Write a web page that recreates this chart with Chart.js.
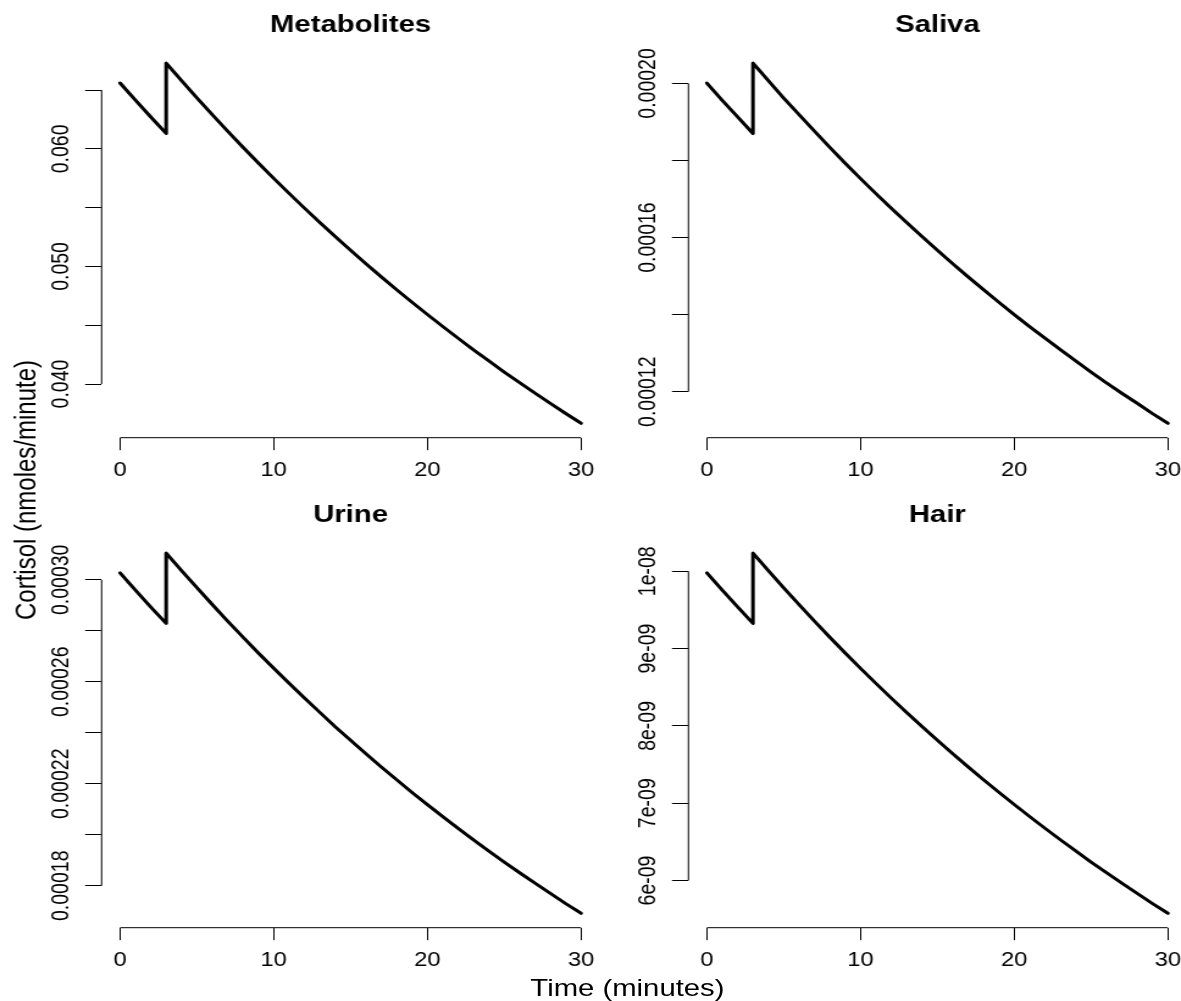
<!DOCTYPE html>
<html>
<head>
<meta charset="utf-8">
<title>Cortisol</title>
<script src="https://cdn.jsdelivr.net/npm/chart.js@4.4.1/dist/chart.umd.min.js"></script>
<style>
  html, body { margin: 0; padding: 0; background: #fff; width: 1181px; height: 1001px; overflow: hidden; }
  /* the source picture is stretched sideways, so the whole page is too */
  #page { position: absolute; left: 0; top: 0; width: 968px; height: 1001px; transform: scaleX(1.22); transform-origin: 0 0; }
  .panel { position: absolute; width: 500px; height: 490px; }
  .panel canvas { display: block; }
  .outer { position: absolute; font-family: "Liberation Sans", Arial, sans-serif; font-size: 24px; line-height: 28px; color: #000; white-space: nowrap; text-align: center; }
</style>
</head>
<body>
<div id="page">
  <div class="panel" style="left:0px;top:0px"><canvas id="c1" width="500" height="490"></canvas></div>
  <div class="panel" style="left:481.15px;top:0px"><canvas id="c2" width="500" height="490"></canvas></div>
  <div class="panel" style="left:0px;top:490px"><canvas id="c3" width="500" height="490"></canvas></div>
  <div class="panel" style="left:481.15px;top:490px"><canvas id="c4" width="500" height="490"></canvas></div>
  <div class="outer" style="left:364.3px;top:974.4px;width:300px;">Time (minutes)</div>
  <div class="outer" style="left:-139.5px;top:475.5px;width:320px;height:28px;transform:rotate(-90deg);">Cortisol (nmoles/minute)</div>
</div>

<script>
// time in minutes; t=3 appears twice for the jump
const timeMin = [0, 1, 2, 3, 3, 4, 5, 6, 7, 8, 9, 10, 11, 12, 13, 14, 15, 16, 17, 18, 19, 20, 21, 22, 23, 24, 25, 26, 27, 28, 29, 30];

const metabolites = [0.06560, 0.06414, 0.06271, 0.06131, 0.06730, 0.06580, 0.06434, 0.06291, 0.06151, 0.06014, 0.05880, 0.05749, 0.05621, 0.05496, 0.05374, 0.05254, 0.05138, 0.05023, 0.04911, 0.04802, 0.04695, 0.04591, 0.04489, 0.04389, 0.04291, 0.04196, 0.04102, 0.04011, 0.03922, 0.03835, 0.03749, 0.03666];
const saliva = [2.001e-4, 1.956e-4, 1.913e-4, 1.870e-4, 2.053e-4, 2.007e-4, 1.962e-4, 1.919e-4, 1.876e-4, 1.834e-4, 1.793e-4, 1.753e-4, 1.714e-4, 1.676e-4, 1.639e-4, 1.603e-4, 1.567e-4, 1.532e-4, 1.498e-4, 1.465e-4, 1.432e-4, 1.400e-4, 1.369e-4, 1.339e-4, 1.309e-4, 1.280e-4, 1.251e-4, 1.223e-4, 1.196e-4, 1.170e-4, 1.143e-4, 1.118e-4];
const urine = [3.027e-4, 2.959e-4, 2.893e-4, 2.829e-4, 3.105e-4, 3.036e-4, 2.969e-4, 2.903e-4, 2.838e-4, 2.775e-4, 2.713e-4, 2.653e-4, 2.594e-4, 2.536e-4, 2.480e-4, 2.424e-4, 2.371e-4, 2.318e-4, 2.266e-4, 2.216e-4, 2.166e-4, 2.118e-4, 2.071e-4, 2.025e-4, 1.980e-4, 1.936e-4, 1.893e-4, 1.851e-4, 1.810e-4, 1.770e-4, 1.730e-4, 1.692e-4];
const hair = [9.978e-9, 9.756e-9, 9.538e-9, 9.325e-9, 1.0236e-8, 1.0008e-8, 9.786e-9, 9.569e-9, 9.356e-9, 9.147e-9, 8.943e-9, 8.744e-9, 8.550e-9, 8.359e-9, 8.174e-9, 7.991e-9, 7.815e-9, 7.640e-9, 7.470e-9, 7.304e-9, 7.141e-9, 6.983e-9, 6.828e-9, 6.676e-9, 6.527e-9, 6.382e-9, 6.239e-9, 6.101e-9, 5.965e-9, 5.833e-9, 5.702e-9, 5.576e-9];

const xTicks = [0, 10, 20, 30];

const metabTicks = [0.040, 0.045, 0.050, 0.055, 0.060, 0.065];
const metabLabels = ['0.040', '', '0.050', '', '0.060', ''];
const salivaTicks = [0.00012, 0.00014, 0.00016, 0.00018, 0.00020];
const salivaLabels = ['0.00012', '', '0.00016', '', '0.00020'];
const urineTicks = [0.00018, 0.00020, 0.00022, 0.00024, 0.00026, 0.00028, 0.00030];
const urineLabels = ['0.00018', '', '0.00022', '', '0.00026', '', '0.00030'];
const hairTicks = [6e-9, 7e-9, 8e-9, 9e-9, 1e-8];
const hairLabels = ['6e-09', '7e-09', '8e-09', '9e-09', '1e-08'];

const FAMILY = '"Liberation Sans", Arial, sans-serif';
const TICK_SIZE = 19.5;

Chart.defaults.font.family = FAMILY;
Chart.defaults.color = '#000';

// widest label, needed to centre the turned y labels
function widest(labels) {
  const c = document.createElement('canvas').getContext('2d');
  c.font = TICK_SIZE + 'px ' + FAMILY;
  return Math.max(...labels.map(s => c.measureText(s).width));
}

// base-R style axis line: only from first tick to last tick
const rAxisLines = {
  id: 'rAxisLines',
  afterDraw(chart) {
    const { ctx, chartArea, scales: { x, y } } = chart;
    const xt = x.ticks, yt = y.ticks;
    ctx.save();
    ctx.strokeStyle = '#000';
    ctx.lineWidth = 1;
    ctx.beginPath();
    ctx.moveTo(x.getPixelForValue(xt[0].value), chartArea.bottom);
    ctx.lineTo(x.getPixelForValue(xt[xt.length - 1].value), chartArea.bottom);
    ctx.moveTo(chartArea.left, y.getPixelForValue(yt[0].value));
    ctx.lineTo(chartArea.left, y.getPixelForValue(yt[yt.length - 1].value));
    ctx.stroke();
    ctx.restore();
  }
};

function makePanel(canvasId, title, values, yTicks, yLabels) {
  const ctx = document.getElementById(canvasId);
  const points = timeMin.map((t, i) => ({ x: t, y: values[i] }));

  // R extends each range by 4%
  const tLo = Math.min(...timeMin), tHi = Math.max(...timeMin);
  const vLo = Math.min(...values), vHi = Math.max(...values);
  const tPad = (tHi - tLo) * 0.04, vPad = (vHi - vLo) * 0.04;

  const yPadding = 32.2 - 13.5 - widest(yLabels) / 2;

  return new Chart(ctx, {
    type: 'line',
    data: {
      datasets: [{
        label: title,
        data: points,
        borderColor: '#000',
        borderWidth: 3,
        borderCapStyle: 'round',
        borderJoinStyle: 'round',
        pointRadius: 0,
        fill: false,
        clip: false
      }]
    },
    options: {
      responsive: false,
      animation: false,
      layout: { padding: { left: 0, right: 8.6, top: 0, bottom: 0 } },
      plugins: {
        legend: { display: false },
        tooltip: { enabled: false },
        title: {
          display: true,
          text: title,
          fullSize: false,
          color: '#000',
          font: { size: 24, weight: 'bold' },
          padding: { top: 10.6, bottom: 9.2 }
        }
      },
      scales: {
        x: {
          type: 'linear',
          min: tLo - tPad,
          max: tHi + tPad,
          afterBuildTicks: s => { s.ticks = xTicks.map(v => ({ value: v })); },
          afterFit: s => { s.height = 52.3; },
          grid: { drawOnChartArea: false, drawTicks: true, tickLength: 12.5, color: '#000', lineWidth: 1 },
          border: { display: false },
          ticks: {
            autoSkip: false,
            maxRotation: 0,
            padding: 8.6,
            color: '#000',
            font: { size: TICK_SIZE },
            callback: (v, i) => String(xTicks[i])
          }
        },
        y: {
          type: 'linear',
          min: vLo - vPad,
          max: vHi + vPad,
          afterBuildTicks: s => { s.ticks = yTicks.map(v => ({ value: v })); },
          afterFit: s => { s.width = 83.28; },
          grid: { drawOnChartArea: false, drawTicks: true, tickLength: 13.5, color: '#000', lineWidth: 1 },
          border: { display: false },
          ticks: {
            autoSkip: false,
            minRotation: 90,
            maxRotation: 90,
            crossAlign: 'center',
            padding: yPadding,
            color: '#000',
            font: { size: TICK_SIZE },
            callback: (v, i) => yLabels[i]
          }
        }
      }
    },
    plugins: [rAxisLines]
  });
}

makePanel('c1', 'Metabolites', metabolites, metabTicks, metabLabels);
makePanel('c2', 'Saliva', saliva, salivaTicks, salivaLabels);
makePanel('c3', 'Urine', urine, urineTicks, urineLabels);
makePanel('c4', 'Hair', hair, hairTicks, hairLabels);
</script>
</body>
</html>
